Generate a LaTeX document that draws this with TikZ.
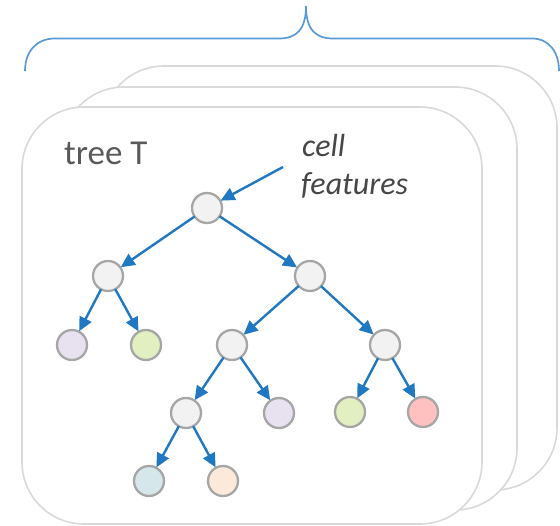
\documentclass[tikz,border=0pt]{standalone}
\usepackage{fontspec}
\setmainfont{Carlito}
\usetikzlibrary{arrows.meta}
\definecolor{cardline}{HTML}{D9D9D9}
\definecolor{bracecol}{HTML}{5B9BD5}
\definecolor{edgecol}{HTML}{1F78C1}
\definecolor{nodeline}{HTML}{A6A6A6}
\definecolor{innerfill}{HTML}{F2F2F2}
\definecolor{lavender}{HTML}{E8E1EF}
\definecolor{lightgreen}{HTML}{E2EFC1}
\definecolor{lightblue}{HTML}{D6E7EC}
\definecolor{peach}{HTML}{FCE9D9}
\definecolor{pink}{HTML}{FFC0C0}
\definecolor{textgray}{HTML}{595959}
\definecolor{italicgray}{HTML}{474747}
\tikzset{
  card/.style={draw=cardline, line width=1.6pt, fill=white, rounded corners=62pt},
  treenode/.style={circle, draw=nodeline, line width=2.3pt, minimum size=30pt, inner sep=0pt, outer sep=0pt},
  inner/.style={treenode, fill=innerfill},
  edge/.style={draw=edgecol, line width=2.4pt, -{Triangle[length=14pt,width=13pt]}, shorten >=0.5pt},
  label/.style={text=textgray, font=\fontsize{35}{38}\selectfont, inner sep=0pt, anchor=base west}
}
\begin{document}
\begin{tikzpicture}[x=1pt,y=-1pt]
\useasboundingbox (0,0) rectangle (560,526);

% stacked cards, back to front
\draw[card] (102,66) rectangle (557,490);
\draw[card] (62,87) rectangle (517,510);
\draw[card] (22,107) rectangle (482,524);

% curly brace over the stack
\draw[bracecol, line width=1.7pt]
  (25,71) .. controls (25,52) and (36,38.5) .. (55,38.5) -- (279,38.5)
  .. controls (296,38.5) and (306,30) .. (306,6)
  .. controls (306,30) and (316,38.5) .. (333,38.5) -- (532,38.5)
  .. controls (549,38.5) and (559,52) .. (559,71);

% labels
\node[label] (title) at (64,165) {tree T};
\node[label, font=\fontsize{32}{38}\selectfont\itshape, text=italicgray] (cell) at (302,157) {cell};
\node[label, font=\fontsize{32}{38}\selectfont\itshape, text=italicgray] (feat) at (301,195) {features};

% tree nodes
\node[inner] (root) at (207,208) {};
\node[inner] (l) at (108,276) {};
\node[inner] (r) at (310,276) {};
\node[treenode, fill=lavender] (ll) at (72,345) {};
\node[treenode, fill=lightgreen] (lr) at (146,345) {};
\node[inner] (rl) at (232,345) {};
\node[inner] (rr) at (385,345) {};
\node[inner] (rll) at (186,413) {};
\node[treenode, fill=lavender] (rlr) at (279,413) {};
\node[treenode, fill=lightgreen] (rrl) at (350,412) {};
\node[treenode, fill=pink] (rrr) at (423,412) {};
\node[treenode, fill=lightblue] (rlll) at (149,481) {};
\node[treenode, fill=peach] (rllr) at (223,481) {};

% input arrow
\coordinate (in) at (283,167);
\draw[edge] (in) -- (root);

% edges
\draw[edge] (root) -- (l);
\draw[edge] (root) -- (r);
\draw[edge] (l) -- (ll);
\draw[edge] (l) -- (lr);
\draw[edge] (r) -- (rl);
\draw[edge] (r) -- (rr);
\draw[edge] (rl) -- (rll);
\draw[edge] (rl) -- (rlr);
\draw[edge] (rr) -- (rrl);
\draw[edge] (rr) -- (rrr);
\draw[edge] (rll) -- (rlll);
\draw[edge] (rll) -- (rllr);
\end{tikzpicture}
\end{document}
